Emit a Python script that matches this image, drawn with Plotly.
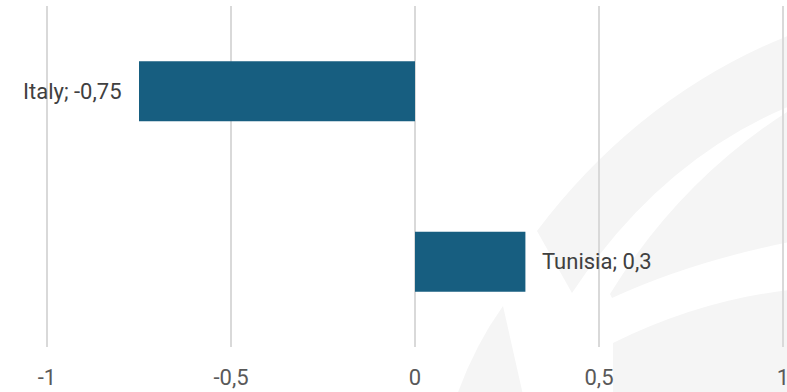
import plotly.graph_objects as go

# Data
countries = ["Italy", "Tunisia"]
values = [-0.75, 0.3]
tick_vals = [-1, -0.5, 0, 0.5, 1]
tick_text = ["-1", "-0,5", "0", "0,5", "1"]

W, H = 787, 392
M_L, M_R, M_T, M_B = 44, 1, 6, 45
PW, PH = W - M_L - M_R, H - M_T - M_B
# -1 and 1 sit 3 px inside the plot edges so their grid lines are drawn
PAD = 2 * 3 / (PW - 6)
X_RANGE = [-1 - PAD, 1 + PAD]


def px(x, y):
    """Pixel position -> paper coordinates."""
    return (x - M_L) / PW, (H - M_B - y) / PH


def path(cmds):
    out = []
    for c in cmds:
        op, pts = c[0], c[1:]
        coords = []
        for (x, y) in pts:
            u, v = px(x, y)
            coords.append(f"{u:.4f},{v:.4f}")
        out.append(op + " " + " ".join(coords))
    return " ".join(out) + " Z"


# faint background swoosh emblem
swooshes = [
    [("M", (537, 231)), ("Q", (640, 95), (790, 35)), ("L", (790, 106)), ("Q", (660, 160), (572, 293))],
    [("M", (610, 294)), ("Q", (680, 180), (790, 110)), ("L", (790, 242)), ("Q", (690, 262), (612, 298))],
    [("M", (613, 343)), ("Q", (700, 300), (790, 290)), ("L", (790, 395)), ("L", (613, 395))],
    [("M", (503, 306)), ("Q", (475, 345), (457, 395)), ("L", (523, 395))],
]
shapes = [
    dict(type="path", xref="paper", yref="paper", path=path(s),
         fillcolor="#f5f5f5", line=dict(width=0), layer="below")
    for s in swooshes
]

fig = go.Figure(
    go.Bar(
        y=countries,
        x=values,
        orientation="h",
        marker=dict(color="#175e80", line=dict(width=0)),
        width=0.352,
        hoverinfo="skip",
    )
)

annotations = []
for c, v in zip(countries, values):
    label = f"{c}; {str(v).replace('.', ',')}"
    annotations.append(dict(
        x=v, y=c, xref="x", yref="y", text=label, showarrow=False,
        xanchor="right" if v < 0 else "left",
        xshift=-15 if v < 0 else 15,
        font=dict(family="Roboto", size=22, color="#404040"),
    ))

fig.update_layout(
    width=W, height=H,
    margin=dict(l=M_L, r=M_R, t=M_T, b=M_B, autoexpand=False),
    paper_bgcolor="white", plot_bgcolor="rgba(0,0,0,0)",
    showlegend=False,
    shapes=shapes,
    annotations=annotations,
    xaxis=dict(
        range=X_RANGE, tickvals=tick_vals, ticktext=tick_text,
        showgrid=True, gridcolor="#d9d9d9", gridwidth=2,
        zeroline=False, showline=False, ticks="",
        ticklabelstandoff=15, ticklabeloverflow="allow", automargin=False,
        tickfont=dict(family="Roboto", size=22, color="#595959"),
    ),
    yaxis=dict(
        categoryorder="array", categoryarray=countries[::-1],
        showticklabels=False, showgrid=False, zeroline=False, showline=False,
        automargin=False,
    ),
)

fig.write_html("out.html")
